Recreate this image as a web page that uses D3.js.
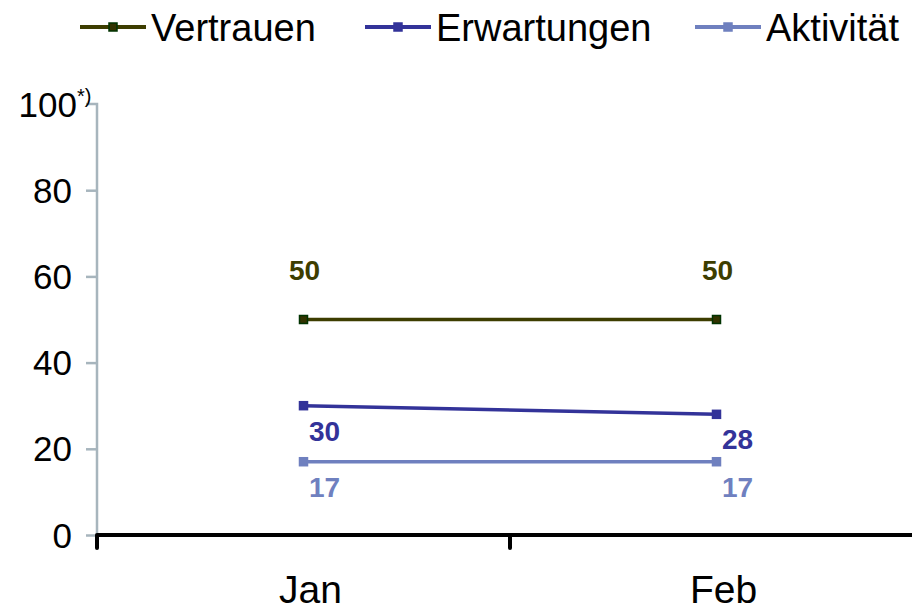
<!DOCTYPE html>
<html><head><meta charset="utf-8">
<script src="https://cdn.jsdelivr.net/npm/d3@7"></script>
<style>body{margin:0;background:#fff}svg{display:block}text{font-family:"Liberation Sans",Arial,sans-serif}</style>
</head><body>
<svg id="c" width="912" height="612"></svg>
<script>
const categories = ["Jan", "Feb"];
const vertrauen = [50, 50];
const erwartungen = [30, 28];
const aktivitaet = [17, 17];
const yTicks = [0, 20, 40, 60, 80, 100];
const seriesNames = ["Vertrauen", "Erwartungen", "Aktivität"];

const series = [
  {name: seriesNames[0], values: vertrauen, color: "#3d3d00", mFill: "#333300", mStroke: "#003300", lab: "above"},
  {name: seriesNames[1], values: erwartungen, color: "#333399", mFill: "#333399", mStroke: "#333399", lab: "below"},
  {name: seriesNames[2], values: aktivitaet, color: "#6f80bf", mFill: "#6f80bf", mStroke: "#6f80bf", lab: "below"}
];

const svg = d3.select("#c");
const x = d3.scaleBand().domain(categories).range([97, 923]);
const y = d3.scaleLinear().domain([0, 100]).range([535, 104]);

// y axis
const yAxis = svg.append("g").attr("transform", "translate(97,0)")
  .call(d3.axisLeft(y).tickValues(yTicks).tickSize(11).tickFormat(""));
yAxis.select(".domain").attr("stroke", "#a7b5bd").attr("stroke-width", 2.5).attr("d", `M-11,${y(100)}H0V${y(0)}`);
yAxis.selectAll(".tick line").attr("stroke", "#a7b5bd").attr("stroke-width", 2.5);
yAxis.selectAll(".tick").filter(d => d === 100).select("line").remove();

svg.append("g").selectAll("text").data(yTicks).join("text")
  .attr("x", d => d === 100 ? 77 : 72)
  .attr("y", d => y(d) + 12.5)
  .attr("text-anchor", "end")
  .attr("font-size", 35)
  .attr("fill", "#000")
  .text(d => d);
svg.append("text").attr("x", 77).attr("y", y(100) - 1).attr("font-size", 20).text("*)");

// x axis
const xAxis = svg.append("g").attr("transform", `translate(0,${y(0)})`)
  .call(d3.axisBottom(x).tickSize(0).tickFormat(""));
xAxis.select(".domain").attr("stroke", "#000").attr("stroke-width", 4).attr("d", "M97,0H912");
const bounds = [x.range()[0], x(categories[1])];
xAxis.selectAll("line.b").data(bounds).join("line").attr("class", "b")
  .attr("x1", d => d).attr("x2", d => d).attr("y1", 0).attr("y2", 13)
  .attr("stroke", "#000").attr("stroke-width", 4).attr("stroke-linecap", "round");
svg.append("g").selectAll("text").data(categories).join("text")
  .attr("x", d => x(d) + x.bandwidth() / 2 + 7)
  .attr("y", 603)
  .attr("text-anchor", "middle")
  .attr("font-size", 39)
  .text(d => d);

// lines
const cx = d => x(d) + x.bandwidth() / 2;
const line = d3.line().x((v, i) => cx(categories[i])).y(v => y(v));
series.forEach(s => {
  const g = svg.append("g");
  g.append("path").attr("d", line(s.values)).attr("fill", "none").attr("stroke", s.color).attr("stroke-width", 3.5);
  g.selectAll("rect").data(s.values).join("rect")
    .attr("x", (v, i) => cx(categories[i]) - 4).attr("y", v => y(v) - 4)
    .attr("width", 8).attr("height", 8)
    .attr("fill", s.mFill).attr("stroke", s.mStroke).attr("stroke-width", 1.5);
  g.selectAll("text").data(s.values).join("text")
    .attr("x", (v, i) => cx(categories[i]) + (s.lab === "above" ? 1 : 21))
    .attr("y", (v, i) => s.lab === "above" ? y(v) - 40 : y(v) + 35)
    .attr("text-anchor", "middle")
    .attr("font-size", 28).attr("font-weight", "bold")
    .attr("fill", s.color)
    .text(v => v);
});

// legend
const legX = [80, 365, 695];
const lg = svg.append("g");
series.forEach((s, i) => {
  lg.append("line").attr("x1", legX[i]).attr("x2", legX[i] + 66).attr("y1", 27).attr("y2", 27)
    .attr("stroke", s.color).attr("stroke-width", 4);
  lg.append("rect").attr("x", legX[i] + 29).attr("y", 23).attr("width", 8).attr("height", 8)
    .attr("fill", s.mFill).attr("stroke", s.mStroke).attr("stroke-width", 1.5);
  lg.append("text").attr("x", legX[i] + 71).attr("y", 41).attr("font-size", 38).text(s.name);
});
</script>
</body></html>
